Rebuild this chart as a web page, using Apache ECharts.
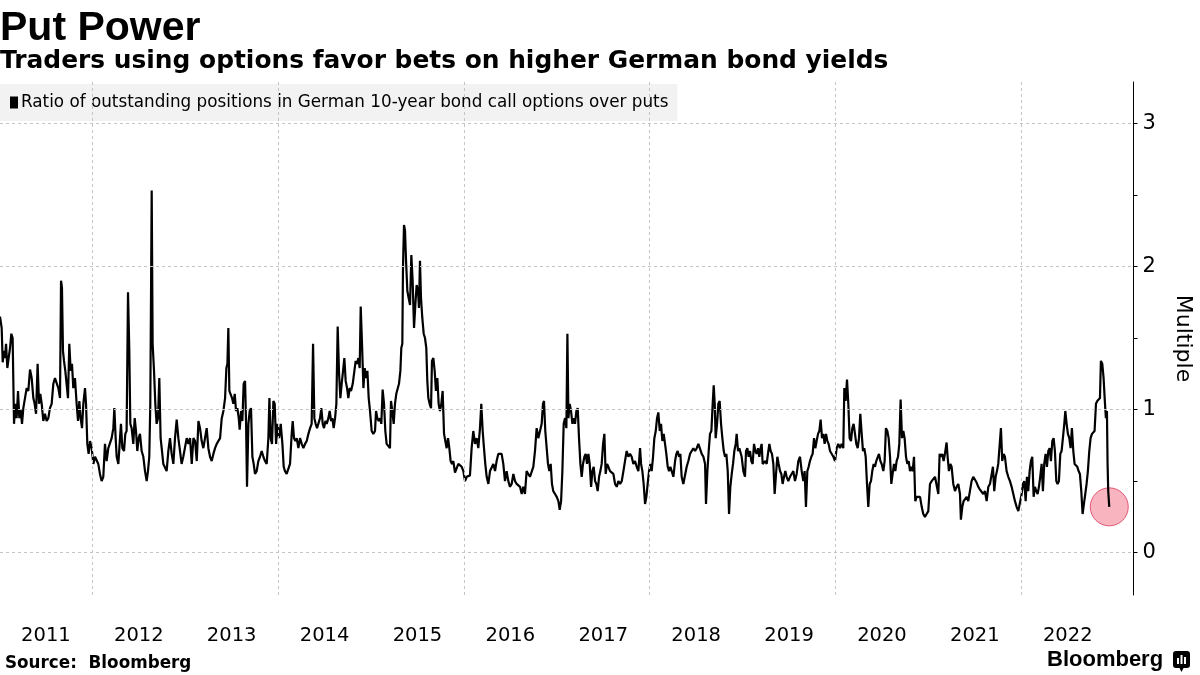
<!DOCTYPE html>
<html><head><meta charset="utf-8">
<script src="https://cdn.jsdelivr.net/npm/echarts@6/dist/echarts.min.js"></script>
<style>html,body{margin:0;padding:0;background:#fff}#c{width:1200px;height:675px}</style>
</head><body><div id="c"></div>
<script>
const seriesName = 'Ratio of outstanding positions in German 10-year bond call options over puts';

// [decimal year, ratio]
const seg2011_2012 = [[2011.006,1.65],[2011.024,1.57],[2011.035,1.33],[2011.049,1.41],[2011.060,1.36],[2011.071,1.46],[2011.085,1.29],[2011.099,1.36],[2011.114,1.43],[2011.128,1.53],[2011.142,1.50],[2011.157,0.90],[2011.171,1.04],[2011.185,0.94],[2011.200,1.13],[2011.214,0.94],[2011.228,1.00],[2011.243,0.90],[2011.257,1.01],[2011.275,1.08],[2011.293,1.15],[2011.311,1.13],[2011.329,1.28],[2011.347,1.22],[2011.365,1.08],[2011.379,1.04],[2011.394,0.97],[2011.411,1.32],[2011.426,1.04],[2011.440,1.11],[2011.455,1.04],[2011.472,0.92],[2011.490,0.97],[2011.508,0.92],[2011.526,0.94],[2011.544,1.01],[2011.562,1.04],[2011.580,1.18],[2011.598,1.22],[2011.616,1.23],[2011.634,1.15],[2011.652,1.08],[2011.663,1.90],[2011.673,1.85],[2011.684,1.41],[2011.695,1.34],[2011.709,1.27],[2011.724,1.27],[2011.738,1.08],[2011.752,1.46],[2011.767,1.27],[2011.781,1.32],[2011.795,1.15],[2011.813,1.22],[2011.831,1.04],[2011.846,0.92],[2011.860,1.06],[2011.874,0.94],[2011.889,0.87],[2011.903,1.04],[2011.921,1.15],[2011.932,1.04],[2011.946,0.76],[2011.960,0.69],[2011.975,0.78],[2011.993,0.73],[2012.011,0.62],[2012.029,0.67],[2012.047,0.67],[2012.064,0.62],[2012.082,0.55],[2012.100,0.50],[2012.118,0.53],[2012.136,0.76],[2012.154,0.64],[2012.172,0.73],[2012.190,0.73],[2012.208,0.80],[2012.226,0.87],[2012.237,1.01],[2012.251,0.80],[2012.262,0.67],[2012.280,0.62],[2012.298,0.62],[2012.308,0.90],[2012.323,0.73],[2012.341,0.71],[2012.355,0.83],[2012.369,0.85],[2012.384,1.82],[2012.398,1.41],[2012.409,0.90],[2012.423,0.87],[2012.441,0.76],[2012.456,0.94],[2012.470,0.85],[2012.484,0.71],[2012.499,0.80],[2012.513,0.83],[2012.531,0.71],[2012.549,0.67],[2012.567,0.57],[2012.585,0.50],[2012.599,0.57],[2012.613,0.67],[2012.624,1.04],[2012.639,2.53],[2012.649,1.46],[2012.664,1.27],[2012.678,1.04],[2012.692,0.90],[2012.707,0.94],[2012.721,1.22],[2012.735,0.80],[2012.750,0.71],[2012.764,0.62],[2012.782,0.62],[2012.800,0.57],[2012.818,0.71],[2012.836,0.80],[2012.854,0.69],[2012.872,0.62],[2012.890,0.80],[2012.908,0.93],[2012.926,0.80],[2012.944,0.71],[2012.961,0.62],[2012.979,0.67]];

const seg2013_2014 = [[2012.998,0.67],[2013.016,0.80],[2013.034,0.76],[2013.052,0.80],[2013.070,0.62],[2013.088,0.80],[2013.106,0.78],[2013.124,0.64],[2013.142,0.92],[2013.159,0.87],[2013.177,0.78],[2013.195,0.73],[2013.213,0.80],[2013.231,0.87],[2013.249,0.73],[2013.267,0.67],[2013.285,0.64],[2013.303,0.69],[2013.321,0.73],[2013.339,0.76],[2013.357,0.76],[2013.375,0.80],[2013.393,0.94],[2013.411,0.99],[2013.429,1.08],[2013.443,1.29],[2013.454,1.32],[2013.464,1.57],[2013.475,1.13],[2013.490,1.13],[2013.504,1.08],[2013.518,1.04],[2013.533,1.11],[2013.547,0.99],[2013.561,1.01],[2013.576,0.94],[2013.586,0.86],[2013.601,0.99],[2013.615,0.92],[2013.629,1.18],[2013.644,1.20],[2013.655,0.90],[2013.665,0.46],[2013.680,0.90],[2013.694,0.99],[2013.708,1.01],[2013.723,0.67],[2013.737,0.62],[2013.751,0.55],[2013.769,0.57],[2013.787,0.64],[2013.805,0.67],[2013.823,0.71],[2013.841,0.67],[2013.859,0.64],[2013.877,0.62],[2013.895,0.80],[2013.906,1.08],[2013.920,0.80],[2013.934,0.76],[2013.949,1.06],[2013.963,1.04],[2013.978,0.76],[2013.992,0.90],[2014.010,0.80],[2014.028,0.90],[2014.046,0.76],[2014.060,0.60],[2014.074,0.57],[2014.092,0.55],[2014.110,0.54],[2014.128,0.62],[2014.146,0.83],[2014.157,0.92],[2014.171,0.80],[2014.186,0.78],[2014.200,0.80],[2014.218,0.73],[2014.236,0.80],[2014.254,0.76],[2014.272,0.73],[2014.290,0.76],[2014.308,0.78],[2014.326,0.83],[2014.344,0.87],[2014.361,0.90],[2014.376,1.46],[2014.390,0.94],[2014.404,0.90],[2014.419,0.87],[2014.433,0.87],[2014.451,0.94],[2014.465,1.01],[2014.480,0.90],[2014.494,0.87],[2014.509,0.92],[2014.523,0.90],[2014.541,0.94],[2014.555,0.99],[2014.570,0.92],[2014.584,0.94],[2014.598,0.87],[2014.613,0.94],[2014.627,1.04],[2014.641,1.58],[2014.656,1.25],[2014.670,1.08],[2014.684,1.18],[2014.699,1.27],[2014.713,1.36],[2014.727,1.20],[2014.742,1.15],[2014.756,1.08],[2014.770,1.15],[2014.785,1.13],[2014.803,1.18],[2014.821,1.27],[2014.835,1.34],[2014.849,1.32],[2014.864,1.36],[2014.878,1.29],[2014.889,1.72],[2014.903,1.46],[2014.918,1.15],[2014.932,1.29],[2014.946,1.22],[2014.961,1.27],[2014.975,1.08]];

const seg2015_2016 = [[2014.989,0.99],[2015.007,0.85],[2015.025,0.83],[2015.043,0.85],[2015.054,0.99],[2015.068,0.94],[2015.082,0.92],[2015.097,0.94],[2015.111,0.90],[2015.125,1.14],[2015.140,1.04],[2015.154,0.85],[2015.168,0.76],[2015.186,0.76],[2015.204,0.73],[2015.215,1.06],[2015.229,0.99],[2015.244,0.90],[2015.258,1.04],[2015.272,1.11],[2015.287,1.11],[2015.301,1.18],[2015.316,1.27],[2015.326,1.43],[2015.337,1.46],[2015.344,1.99],[2015.355,2.29],[2015.366,2.25],[2015.377,2.04],[2015.391,1.83],[2015.405,1.78],[2015.420,1.73],[2015.434,2.08],[2015.448,1.90],[2015.463,1.57],[2015.477,1.73],[2015.491,1.87],[2015.506,1.83],[2015.516,1.71],[2015.527,2.04],[2015.538,1.78],[2015.552,1.64],[2015.567,1.53],[2015.581,1.50],[2015.595,1.43],[2015.606,1.20],[2015.617,1.08],[2015.631,1.04],[2015.646,1.01],[2015.656,1.34],[2015.671,1.36],[2015.685,1.27],[2015.699,1.13],[2015.714,1.22],[2015.728,1.04],[2015.742,0.99],[2015.757,1.04],[2015.771,1.13],[2015.786,0.83],[2015.800,0.78],[2015.814,0.73],[2015.829,0.80],[2015.843,0.73],[2015.857,0.64],[2015.872,0.62],[2015.886,0.64],[2015.904,0.56],[2015.922,0.57],[2015.940,0.62],[2015.958,0.63],[2015.976,0.60],[2015.994,0.57],[2016.012,0.50],[2016.030,0.53],[2016.047,0.53],[2016.065,0.54],[2016.083,0.73],[2016.101,0.85],[2016.119,0.76],[2016.137,0.80],[2016.155,0.73],[2016.173,0.87],[2016.187,1.04],[2016.202,0.85],[2016.216,0.73],[2016.230,0.62],[2016.245,0.53],[2016.263,0.48],[2016.281,0.57],[2016.299,0.57],[2016.317,0.62],[2016.335,0.57],[2016.352,0.64],[2016.370,0.69],[2016.388,0.70],[2016.406,0.69],[2016.424,0.62],[2016.442,0.50],[2016.460,0.57],[2016.478,0.50],[2016.496,0.46],[2016.514,0.48],[2016.532,0.55],[2016.550,0.50],[2016.568,0.48],[2016.586,0.49],[2016.604,0.46],[2016.622,0.41],[2016.639,0.46],[2016.657,0.41],[2016.675,0.57],[2016.693,0.55],[2016.711,0.53],[2016.729,0.53],[2016.747,0.60],[2016.765,0.71],[2016.783,0.87],[2016.801,0.80],[2016.819,0.80],[2016.837,0.90],[2016.851,1.04],[2016.862,1.06],[2016.876,0.85],[2016.891,0.73],[2016.905,0.62],[2016.919,0.57],[2016.934,0.62],[2016.948,0.48],[2016.962,0.43]];

const seg2017_2018 = [[2016.981,0.41],[2016.999,0.39],[2017.017,0.36],[2017.031,0.30],[2017.046,0.36],[2017.060,0.57],[2017.074,0.90],[2017.089,0.94],[2017.103,0.87],[2017.114,1.53],[2017.125,0.94],[2017.139,1.04],[2017.153,0.99],[2017.168,0.90],[2017.182,0.94],[2017.196,0.90],[2017.211,0.99],[2017.225,1.01],[2017.239,0.80],[2017.254,0.62],[2017.268,0.53],[2017.282,0.62],[2017.297,0.67],[2017.311,0.69],[2017.325,0.62],[2017.340,0.69],[2017.354,0.62],[2017.369,0.46],[2017.383,0.57],[2017.397,0.60],[2017.412,0.50],[2017.426,0.48],[2017.440,0.43],[2017.455,0.53],[2017.469,0.57],[2017.483,0.62],[2017.498,0.76],[2017.512,0.83],[2017.526,0.55],[2017.541,0.62],[2017.555,0.60],[2017.573,0.57],[2017.591,0.57],[2017.609,0.55],[2017.627,0.48],[2017.645,0.46],[2017.663,0.50],[2017.681,0.48],[2017.699,0.50],[2017.717,0.57],[2017.734,0.64],[2017.752,0.71],[2017.770,0.67],[2017.788,0.69],[2017.806,0.67],[2017.824,0.62],[2017.842,0.64],[2017.860,0.60],[2017.878,0.57],[2017.896,0.73],[2017.907,0.62],[2017.921,0.57],[2017.935,0.48],[2017.950,0.34],[2017.964,0.39],[2017.978,0.48],[2017.993,0.57],[2018.007,0.62],[2018.021,0.57],[2018.036,0.67],[2018.050,0.80],[2018.065,0.85],[2018.079,0.94],[2018.093,0.98],[2018.108,0.85],[2018.122,0.90],[2018.136,0.78],[2018.151,0.83],[2018.165,0.76],[2018.179,0.69],[2018.194,0.60],[2018.208,0.57],[2018.222,0.60],[2018.237,0.57],[2018.255,0.53],[2018.273,0.64],[2018.287,0.69],[2018.301,0.71],[2018.316,0.67],[2018.330,0.69],[2018.344,0.53],[2018.362,0.48],[2018.380,0.48],[2018.398,0.60],[2018.416,0.64],[2018.434,0.69],[2018.452,0.71],[2018.470,0.73],[2018.488,0.71],[2018.506,0.73],[2018.524,0.76],[2018.542,0.76],[2018.560,0.69],[2018.578,0.67],[2018.596,0.62],[2018.606,0.34],[2018.621,0.57],[2018.635,0.71],[2018.649,0.83],[2018.664,0.85],[2018.678,1.04],[2018.689,1.17],[2018.700,1.04],[2018.710,0.80],[2018.725,0.90],[2018.739,1.04],[2018.753,1.06],[2018.768,0.90],[2018.782,0.80],[2018.797,0.71],[2018.811,0.67],[2018.825,0.69],[2018.840,0.57],[2018.854,0.27],[2018.868,0.46],[2018.883,0.55],[2018.897,0.62],[2018.911,0.71],[2018.926,0.76],[2018.936,0.83],[2018.951,0.71],[2018.965,0.73]];

const seg2019_2020 = [[2018.972,0.73],[2018.990,0.67],[2019.008,0.57],[2019.026,0.53],[2019.037,0.71],[2019.051,0.73],[2019.065,0.67],[2019.080,0.71],[2019.094,0.64],[2019.108,0.62],[2019.123,0.76],[2019.137,0.71],[2019.151,0.69],[2019.166,0.73],[2019.180,0.67],[2019.194,0.73],[2019.205,0.76],[2019.216,0.62],[2019.230,0.62],[2019.245,0.64],[2019.259,0.62],[2019.273,0.69],[2019.288,0.76],[2019.302,0.71],[2019.316,0.69],[2019.331,0.62],[2019.345,0.41],[2019.360,0.55],[2019.374,0.67],[2019.388,0.62],[2019.403,0.57],[2019.417,0.55],[2019.431,0.48],[2019.446,0.53],[2019.460,0.57],[2019.474,0.53],[2019.492,0.50],[2019.510,0.53],[2019.528,0.55],[2019.546,0.57],[2019.564,0.50],[2019.582,0.55],[2019.600,0.64],[2019.618,0.67],[2019.636,0.57],[2019.654,0.50],[2019.668,0.57],[2019.682,0.32],[2019.697,0.57],[2019.711,0.60],[2019.725,0.64],[2019.740,0.67],[2019.754,0.69],[2019.769,0.80],[2019.783,0.73],[2019.797,0.78],[2019.812,0.83],[2019.826,0.85],[2019.840,0.93],[2019.855,0.80],[2019.869,0.83],[2019.883,0.76],[2019.898,0.83],[2019.912,0.78],[2019.926,0.76],[2019.941,0.71],[2019.959,0.71],[2019.977,0.67],[2019.995,0.64],[2020.013,0.73],[2020.030,0.76],[2020.048,0.73],[2020.066,0.76],[2020.084,0.73],[2020.095,1.15],[2020.109,1.06],[2020.124,1.21],[2020.138,1.04],[2020.152,0.80],[2020.167,0.78],[2020.181,0.87],[2020.195,0.90],[2020.210,0.83],[2020.224,0.76],[2020.239,0.73],[2020.253,0.80],[2020.267,0.97],[2020.282,0.83],[2020.296,0.71],[2020.310,0.73],[2020.325,0.67],[2020.339,0.48],[2020.353,0.32],[2020.368,0.48],[2020.382,0.50],[2020.396,0.57],[2020.411,0.62],[2020.425,0.60],[2020.439,0.64],[2020.454,0.64],[2020.468,0.69],[2020.483,0.64],[2020.497,0.62],[2020.515,0.57],[2020.529,0.64],[2020.543,0.87],[2020.558,0.85],[2020.572,0.80],[2020.587,0.67],[2020.601,0.48],[2020.615,0.55],[2020.630,0.62],[2020.644,0.57],[2020.658,0.64],[2020.673,0.67],[2020.687,0.76],[2020.701,1.07],[2020.716,0.80],[2020.730,0.85],[2020.744,0.80],[2020.759,0.67],[2020.773,0.62],[2020.788,0.64],[2020.802,0.57],[2020.816,0.60],[2020.831,0.57],[2020.845,0.67],[2020.859,0.36],[2020.874,0.39],[2020.892,0.39],[2020.910,0.39],[2020.928,0.32],[2020.945,0.27]];

const seg2021_2022 = [[2020.963,0.25],[2020.981,0.27],[2020.999,0.29],[2021.017,0.48],[2021.035,0.50],[2021.053,0.50],[2021.071,0.53],[2021.089,0.53],[2021.107,0.41],[2021.121,0.69],[2021.135,0.67],[2021.150,0.69],[2021.164,0.64],[2021.178,0.69],[2021.196,0.77],[2021.207,0.67],[2021.221,0.57],[2021.236,0.62],[2021.250,0.60],[2021.268,0.48],[2021.286,0.43],[2021.304,0.46],[2021.322,0.48],[2021.340,0.41],[2021.350,0.23],[2021.365,0.32],[2021.379,0.36],[2021.394,0.36],[2021.412,0.39],[2021.429,0.36],[2021.447,0.43],[2021.465,0.50],[2021.483,0.53],[2021.501,0.53],[2021.519,0.49],[2021.537,0.46],[2021.555,0.44],[2021.573,0.43],[2021.591,0.41],[2021.609,0.43],[2021.627,0.36],[2021.645,0.46],[2021.663,0.48],[2021.681,0.48],[2021.695,0.60],[2021.709,0.43],[2021.724,0.53],[2021.738,0.57],[2021.752,0.62],[2021.767,0.62],[2021.781,0.87],[2021.795,0.64],[2021.810,0.69],[2021.824,0.67],[2021.842,0.57],[2021.860,0.53],[2021.878,0.50],[2021.896,0.46],[2021.914,0.41],[2021.932,0.36],[2021.950,0.32],[2021.968,0.29],[2021.986,0.29],[2022.004,0.41],[2022.018,0.48],[2022.032,0.50],[2022.047,0.36],[2022.061,0.53],[2022.075,0.43],[2022.090,0.57],[2022.104,0.64],[2022.118,0.67],[2022.133,0.39],[2022.147,0.46],[2022.161,0.43],[2022.176,0.41],[2022.190,0.46],[2022.204,0.53],[2022.219,0.62],[2022.233,0.43],[2022.247,0.62],[2022.262,0.69],[2022.276,0.60],[2022.291,0.71],[2022.305,0.73],[2022.319,0.64],[2022.334,0.78],[2022.348,0.80],[2022.362,0.71],[2022.377,0.50],[2022.391,0.48],[2022.405,0.50],[2022.420,0.69],[2022.434,0.71],[2022.448,0.80],[2022.463,0.90],[2022.474,0.99],[2022.488,0.90],[2022.502,0.83],[2022.517,0.80],[2022.531,0.73],[2022.545,0.87],[2022.560,0.71],[2022.574,0.62],[2022.588,0.62],[2022.603,0.60],[2022.617,0.57],[2022.631,0.55],[2022.646,0.43],[2022.660,0.27],[2022.674,0.34],[2022.689,0.41],[2022.703,0.48],[2022.717,0.57],[2022.732,0.71],[2022.746,0.80],[2022.761,0.83],[2022.775,0.83],[2022.789,0.85],[2022.804,1.04],[2022.818,1.06],[2022.832,1.06],[2022.847,1.08],[2022.857,1.34],[2022.872,1.32],[2022.886,1.22],[2022.901,1.04],[2022.911,0.94],[2022.922,0.99],[2022.929,0.62],[2022.936,0.43],[2022.947,0.32]];

const yearLabels = [2011,2012,2013,2014,2015,2016,2017,2018,2019,2020,2021,2022];
const gridYears = [2012,2014,2016,2018,2020,2022];
const yTicks = [0,1,2,3];
const yAllTicks = [0,0.5,1,1.5,2,2.5,3];

const data = [].concat(seg2011_2012, seg2013_2014, seg2015_2016, seg2017_2018, seg2019_2020, seg2021_2022);
const last = data[data.length - 1];

const FONT = 'DejaVu Sans';
const chart = echarts.init(document.getElementById('c'), null, {renderer: 'canvas'});
chart.setOption({
  animation: false,
  backgroundColor: '#ffffff',
  title: [
    {text: 'Put Power', left: 0, top: 8, padding: 0,
     textStyle: {fontFamily: 'Liberation Sans', fontWeight: 'bold', fontSize: 41, color: '#000'}},
    {text: 'Traders using options favor bets on higher German bond yields', left: 0, top: 49, padding: 0,
     textStyle: {fontFamily: FONT, fontWeight: 'bold', fontSize: 24.9, color: '#000'}},
    {text: 'Source:  Bloomberg', left: 5, top: 655, padding: 0,
     textStyle: {fontFamily: FONT, fontWeight: 'bold', fontSize: 16.8, color: '#000'}}
  ],
  legend: {
    data: [seriesName], left: 0, top: 84, padding: [10, 9, 10, 10],
    backgroundColor: '#f2f2f2', icon: 'rect', itemWidth: 8, itemHeight: 12, itemGap: 0,
    selectedMode: false,
    textStyle: {fontFamily: FONT, fontSize: 16.8, color: '#000', padding: [0, 0, 0, -2]}
  },
  grid: {left: 0, right: 66.5, top: 82, bottom: 80, outerBoundsMode: 'none', containLabel: false},
  xAxis: {
    type: 'value', min: 2011.006, max: 2023.208,
    axisLine: {show: false, onZero: false}, axisTick: {show: false}, splitLine: {show: false},
    axisLabel: {customValues: yearLabels.map(y => y + 0.5), formatter: v => String(Math.floor(v)),
      margin: 31, fontFamily: FONT, fontSize: 19.5, color: '#000'}
  },
  yAxis: {
    type: 'value', position: 'right', min: -0.296, max: 3.289,
    axisLine: {show: true, lineStyle: {color: '#000', width: 1}},
    axisTick: {show: true, customValues: yAllTicks, length: 4, lineStyle: {color: '#000'}},
    axisLabel: {customValues: yTicks, formatter: v => String(v), margin: 9,
      fontFamily: FONT, fontSize: 21, color: '#000'},
    splitLine: {show: false},
    name: 'Multiple', nameLocation: 'middle', nameRotate: -90, nameGap: 38,
    nameTextStyle: {fontFamily: FONT, fontSize: 22, color: '#000'}
  },
  graphic: [
    {type: 'text', left: 1047, top: 649, style: {text: 'Bloomberg', font: 'bold 22px "Liberation Sans"', fill: '#000'}},
    {type: 'group', left: 1173, top: 651, children: [
      {type: 'rect', shape: {x: 0, y: 0, width: 17, height: 17, r: 3}, style: {fill: '#000'}},
      {type: 'polygon', shape: {points: [[6, 16], [11, 16], [8.5, 21]]}, style: {fill: '#000'}},
      {type: 'rect', shape: {x: 4, y: 7, width: 2, height: 6}, style: {fill: '#fff'}},
      {type: 'rect', shape: {x: 7.5, y: 4, width: 2, height: 9}, style: {fill: '#fff'}},
      {type: 'rect', shape: {x: 11, y: 6, width: 2, height: 7}, style: {fill: '#fff'}}
    ]}
  ],
  series: [
    {
      name: 'latest', type: 'scatter', z: 1, silent: true,
      data: [last], symbolSize: 38,
      itemStyle: {color: 'rgba(238,70,95,0.5)', borderColor: '#d93a5c', borderWidth: 1},
      markLine: {
        symbol: 'none', silent: true, animation: false, label: {show: false},
        lineStyle: {color: '#c4c4c4', type: [3, 3], width: 1},
        data: [...gridYears.map(v => ({xAxis: v})), ...yTicks.map(v => ({yAxis: v}))]
      }
    },
    {
      name: seriesName, type: 'line', z: 3, data: data, showSymbol: false, symbol: 'none',
      lineStyle: {color: '#000', width: 2.2}, itemStyle: {color: '#000'}
    }
  ]
});
</script></body></html>
